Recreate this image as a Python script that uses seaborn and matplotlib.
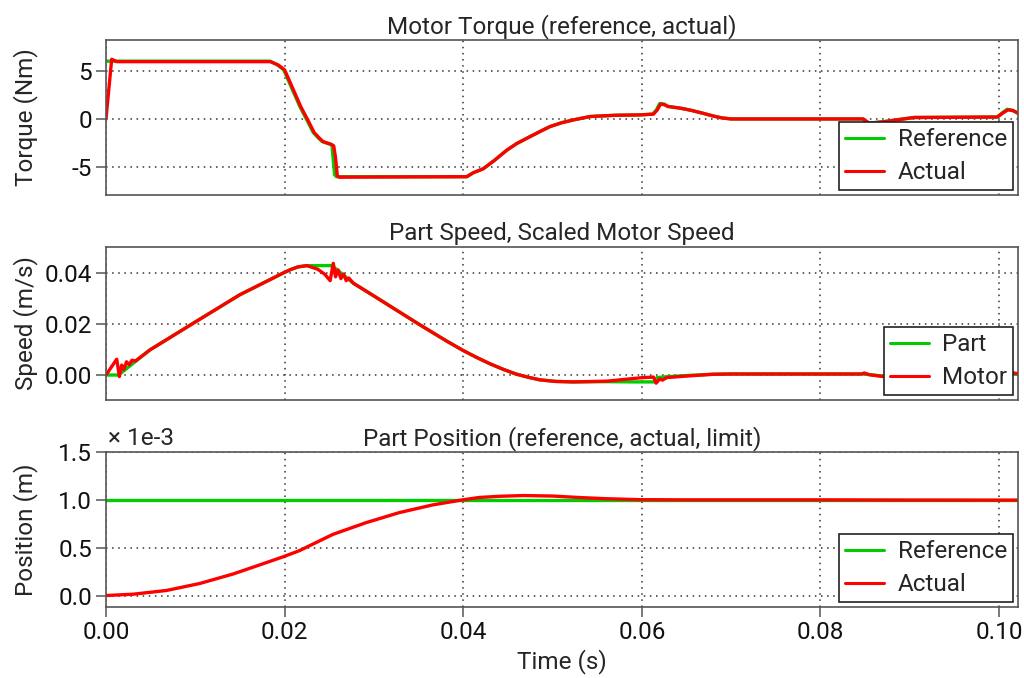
import matplotlib
matplotlib.use("Agg")
import matplotlib.pyplot as plt
import seaborn as sns

# Motor torque, reference (green) and actual (red), Nm
torque_ref_t = [0.0, 0.0184, 0.0192, 0.0199, 0.0208, 0.0217, 0.0226, 0.0232, 0.0238, 0.0242,
                0.0250, 0.0253, 0.0254, 0.0256, 0.0258, 0.0404, 0.0411, 0.04225, 0.0435, 0.04487,
                0.0460, 0.0471, 0.0485, 0.0497, 0.0510, 0.05233, 0.0542, 0.0570, 0.0598, 0.0612,
                0.0616, 0.0620, 0.0625, 0.0629, 0.0643, 0.0655, 0.0668, 0.0680, 0.0690, 0.0700,
                0.0847, 0.0853, 0.0858, 0.0870, 0.0885, 0.0905, 0.0998, 0.1003, 0.1009, 0.1015,
                0.1021]
torque_ref = [6.0, 6.0, 5.6, 5.1, 3.2, 1.3, -0.3, -1.4, -2.0, -2.35,
              -2.6, -2.65, -3.8, -5.8, -6.0, -6.0, -5.6, -5.17, -4.3, -3.25,
              -2.55, -2.02, -1.35, -0.8, -0.4, -0.1, 0.25, 0.38, 0.42, 0.5,
              0.9, 1.6, 1.55, 1.3, 1.12, 0.9, 0.6, 0.3, 0.1, 0.0,
              0.0, -0.45, -0.4, -0.3, -0.1, 0.15, 0.2, 0.6, 1.0, 0.9,
              0.6]

torque_act_t = [0.0, 0.00064, 0.0012, 0.0184, 0.0193, 0.0200, 0.0209, 0.0218, 0.0227, 0.0233,
                0.0239, 0.0243, 0.0251, 0.0255, 0.0257, 0.0259, 0.0261, 0.0404, 0.0411, 0.04225,
                0.0435, 0.04487, 0.0460, 0.0471, 0.0485, 0.0497, 0.0510, 0.05233, 0.0542, 0.0570,
                0.0598, 0.0613, 0.0617, 0.0621, 0.0626, 0.0629, 0.0643, 0.0655, 0.0668, 0.0680,
                0.0690, 0.0700, 0.0848, 0.0854, 0.0859, 0.0870, 0.0885, 0.0905, 0.0998, 0.1004,
                0.1010, 0.1016, 0.1021]
torque_act = [0.0, 6.2, 5.95, 5.95, 5.6, 5.1, 3.2, 1.3, -0.3, -1.4,
              -2.0, -2.35, -2.6, -2.8, -4.0, -5.9, -6.05, -6.0, -5.6, -5.17,
              -4.3, -3.25, -2.55, -2.02, -1.35, -0.8, -0.4, -0.1, 0.25, 0.38,
              0.42, 0.5, 0.9, 1.55, 1.45, 1.3, 1.12, 0.9, 0.6, 0.3,
              0.1, 0.0, 0.0, -0.4, -0.4, -0.3, -0.1, 0.15, 0.2, 0.6,
              0.95, 0.85, 0.6]

# Part speed (green) and scaled motor speed (red), m/s
speed_part_t = [0.0, 0.0014, 0.0049, 0.0100, 0.0150, 0.0199, 0.0207, 0.0215, 0.0225, 0.0253,
                0.0277, 0.0300, 0.0350, 0.0382, 0.0400, 0.0415, 0.0430, 0.0445, 0.0459, 0.0473,
                0.0486, 0.0503, 0.0523, 0.0561, 0.0590, 0.0614, 0.0617, 0.0630, 0.0650, 0.0680,
                0.0700, 0.0848, 0.0870, 0.0900, 0.1000, 0.1021]
speed_part = [0.0, 0.0, 0.0098, 0.0208, 0.0315, 0.0401, 0.0414, 0.0424, 0.0429, 0.0429,
              0.0360, 0.0310, 0.0200, 0.0132, 0.0096, 0.0069, 0.0044, 0.0022, 0.0004, -0.0009,
              -0.0019, -0.0025, -0.0027, -0.0026, -0.0027, -0.0027, -0.0010, -0.0006, -0.0002, 0.0003,
              0.0004, 0.0004, -0.0004, -0.0001, 0.0003, 0.0003]

speed_motor_t = [0.0, 0.0012, 0.0015, 0.00176, 0.0020, 0.0023, 0.0026, 0.0029, 0.0033, 0.0049,
                 0.0100, 0.0150, 0.0199, 0.0207, 0.0215, 0.0225, 0.0237, 0.0245, 0.0251, 0.02545,
                 0.0257, 0.0260, 0.0263, 0.0266, 0.0269, 0.0272, 0.0277, 0.0300, 0.0350, 0.0382,
                 0.0400, 0.0415, 0.0430, 0.0445, 0.0459, 0.0473, 0.0486, 0.0503, 0.0523, 0.0561,
                 0.0598, 0.0613, 0.0616, 0.0620, 0.0623, 0.0628, 0.0650, 0.0680, 0.0700, 0.0846,
                 0.0849, 0.0855, 0.0870, 0.0900, 0.1000, 0.1008, 0.1015, 0.1021]
speed_motor = [0.0, 0.0062, -0.0006, 0.0039, 0.0022, 0.0052, 0.0040, 0.0058, 0.0055, 0.0098,
               0.0208, 0.0315, 0.0401, 0.0414, 0.0424, 0.0429, 0.0415, 0.0395, 0.0370, 0.0438,
               0.0385, 0.0412, 0.0378, 0.0396, 0.0370, 0.0380, 0.0360, 0.0310, 0.0200, 0.0132,
               0.0096, 0.0069, 0.0044, 0.0022, 0.0004, -0.0009, -0.0019, -0.0025, -0.0027, -0.0024,
               -0.0011, -0.0008, -0.0032, -0.0015, -0.0020, -0.0010, -0.0004, 0.0003, 0.0004, 0.0004,
               0.0008, 0.0001, -0.0006, -0.0002, 0.0002, 0.0008, 0.0009, 0.0005]

# Part position, reference (green) and actual (red), in units of 1e-3 m
pos_ref_t = [0.0, 0.1021]
pos_ref = [1.0, 1.0]
pos_act_t = [0.0, 0.00305, 0.00678, 0.0105, 0.01423, 0.01795, 0.0199, 0.02168, 0.0254, 0.0291,
             0.03285, 0.03657, 0.03993, 0.0418, 0.0440, 0.0467, 0.0500, 0.0531, 0.0560, 0.0598,
             0.0650, 0.0700, 0.0800, 0.0900, 0.1021]
pos_act = [0.0, 0.014, 0.053, 0.126, 0.225, 0.344, 0.407, 0.47, 0.639, 0.761,
           0.867, 0.947, 1.0, 1.025, 1.037, 1.045, 1.040, 1.024, 1.012, 1.002,
           1.0, 1.0, 1.0, 0.998, 0.997]

x_ticks = [0.0, 0.02, 0.04, 0.06, 0.08, 0.10]
green = "#00cc00"
red = "#ff0000"
fs = 17.5

sns.set_style("ticks")
plt.rcParams["font.family"] = ["Roboto", "DejaVu Sans"]
plt.rcParams["font.size"] = fs
plt.rcParams["axes.unicode_minus"] = False

fig = plt.figure(figsize=(10.24, 6.78), dpi=100)
ax1 = fig.add_axes([0.1035, 0.7124, 0.8905, 0.2286])
ax2 = fig.add_axes([0.1035, 0.4100, 0.8905, 0.2257])
ax3 = fig.add_axes([0.1035, 0.1047, 0.8905, 0.2286])

panels = [
    (ax1, torque_ref_t, torque_ref, torque_act_t, torque_act, "Reference", "Actual"),
    (ax2, speed_part_t, speed_part, speed_motor_t, speed_motor, "Part", "Motor"),
    (ax3, pos_ref_t, pos_ref, pos_act_t, pos_act, "Reference", "Actual"),
]
for ax, t1, y1, t2, y2, l1, l2 in panels:
    sns.lineplot(x=t1, y=y1, ax=ax, color=green, linewidth=2.4, label=l1,
                 estimator=None, sort=False)
    sns.lineplot(x=t2, y=y2, ax=ax, color=red, linewidth=2.4, label=l2,
                 estimator=None, sort=False)
    ax.set_xlim(0, 0.1021)
    ax.set_xticks(x_ticks)
    ax.set_axisbelow(True)
    ax.grid(True, linestyle=(0, (1, 3)), color="#333333", linewidth=1.1)
    for s in ax.spines.values():
        s.set_color("#555555")
        s.set_linewidth(1.2)
    ax.tick_params(direction="out", length=7, width=1.1, color="#555555",
                   labelsize=fs, labelcolor="#111111", pad=3)
    leg = ax.legend(loc="lower right", frameon=True, fancybox=False, framealpha=1,
                    edgecolor="#222222", fontsize=fs, handlelength=1.6,
                    borderaxespad=0.2, borderpad=0.25, labelspacing=0.4,
                    handletextpad=0.55)
    leg.get_frame().set_linewidth(1.2)
    for h in leg.get_lines():
        h.set_linewidth(2.2)

ax1.set_ylim(-7.9, 8.2)
ax1.set_yticks([-5, 0, 5])
ax1.set_title("Motor Torque (reference, actual)", fontsize=fs, pad=5)
ax1.set_ylabel("Torque (Nm)", fontsize=fs)

ax2.set_ylim(-0.0098, 0.0502)
ax2.set_yticks([0.0, 0.02, 0.04])
ax2.set_yticklabels(["0.00", "0.02", "0.04"])
ax2.set_title("Part Speed, Scaled Motor Speed", fontsize=fs, pad=5)
ax2.set_ylabel("Speed (m/s)", fontsize=fs)

ax3.set_ylim(-0.12, 1.5)
ax3.set_yticks([0.0, 0.5, 1.0, 1.5])
ax3.set_yticklabels(["0.0", "0.5", "1.0", "1.5"])
ax3.set_title("Part Position (reference, actual, limit)", fontsize=fs, pad=5)
ax3.set_ylabel("Position (m)", fontsize=fs)
ax3.text(0.002, 1.015, "× 1e-3", transform=ax3.transAxes, ha="left", va="bottom",
         fontsize=fs)
ax3.set_xticklabels(["0.00", "0.02", "0.04", "0.06", "0.08", "0.10"])
ax3.set_xlabel("Time (s)", fontsize=fs)

for ax in (ax1, ax2):
    ax.tick_params(axis="x", length=0, labelbottom=False)

for ax in (ax1, ax2, ax3):
    ax.yaxis.set_label_coords(-0.075, 0.5)

fig.savefig("out.png", dpi=100)
